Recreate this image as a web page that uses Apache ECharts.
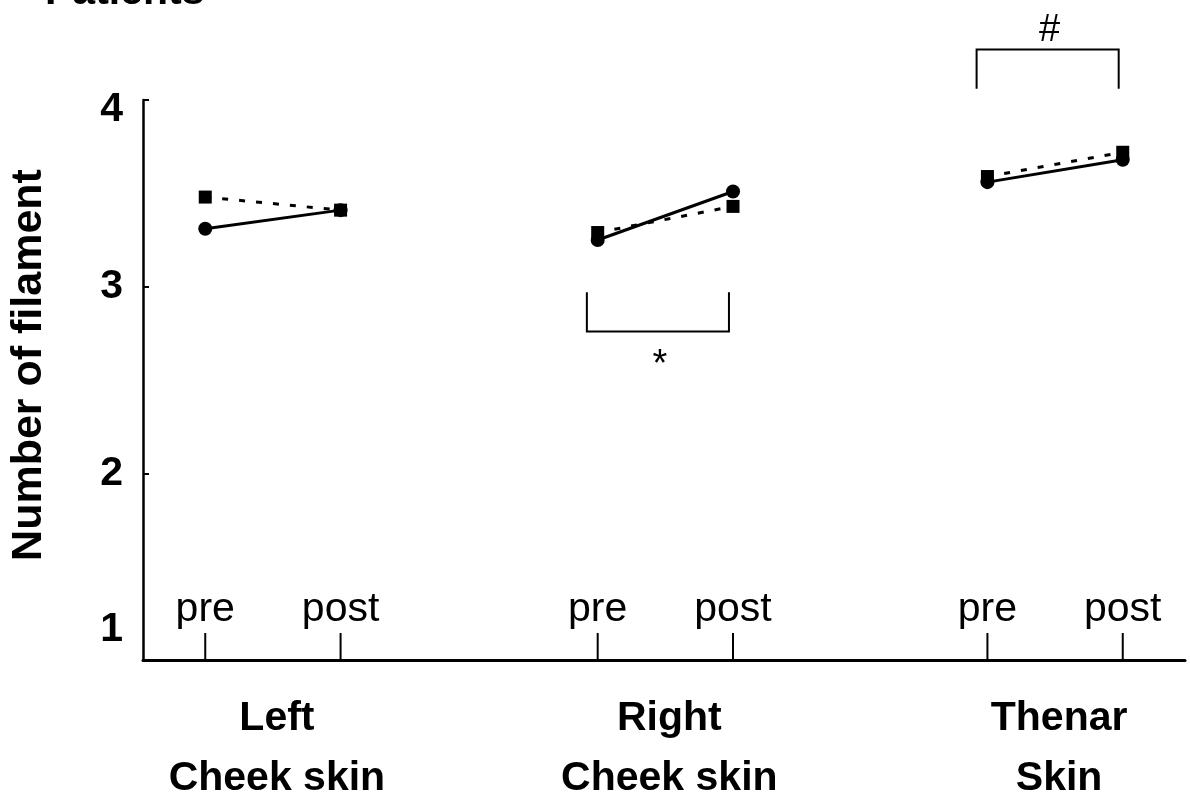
<!DOCTYPE html>
<html>
<head>
<meta charset="utf-8">
<script src="https://cdn.jsdelivr.net/npm/echarts@6/dist/echarts.min.js"></script>
<style>
  html, body { margin: 0; padding: 0; background: #fff; }
  #chart { width: 1190px; height: 797px; }
</style>
</head>
<body>
<div id="chart"></div>
<script>
// Measurement sites (two-line names), measurement phases and their x positions
const siteNames = [['Left', 'Cheek skin'], ['Right', 'Cheek skin'], ['Thenar', 'Skin']];
const phaseNames = ['pre', 'post'];
const siteStart = [1, 3.9, 6.78];   // x of the "pre" point of each site
const phaseStep = [0, 1];           // offset of pre / post within a site

// Mean filament number per site: [pre, post]
const solidCircle = [[3.31, 3.41], [3.25, 3.51], [3.56, 3.68]];
const dottedSquare = [[3.48, 3.41], [3.29, 3.43], [3.59, 3.72]];

// Y axis ticks
const yTicks = [1, 2, 3, 4];

// Significance brackets: site index, y of leg ends, y of bar, y of mark, mark
const sigSite = [1, 2];
const sigLegEnd = [2.97, 4.06];
const sigBar = [2.76, 4.27];
const sigMarkY = [2.58, 4.37];
const sigMark = ['*', '#'];

const FONT = "'Liberation Sans', Arial, Helvetica, sans-serif";

const chart = echarts.init(document.getElementById('chart'));

function xOf(site, phase) { return siteStart[site] + phaseStep[phase]; }

const series = [];

// Solid lines with circles
solidCircle.forEach((vals, s) => {
  series.push({
    type: 'line',
    data: vals.map((v, p) => [xOf(s, p), v]),
    symbol: 'circle',
    symbolSize: 14,
    z: 3,
    lineStyle: { color: '#000', width: 3, type: 'solid' },
    itemStyle: { color: '#000' },
    silent: true
  });
});

// Dotted lines with squares
dottedSquare.forEach((vals, s) => {
  series.push({
    type: 'line',
    data: vals.map((v, p) => [xOf(s, p), v]),
    symbol: 'rect',
    symbolSize: 13,
    z: 4,
    lineStyle: { color: '#000', width: 3, type: [6, 11] },
    itemStyle: { color: '#000' },
    silent: true
  });
});

// Phase ticks and labels (pre / post) above the x axis
const phaseTicks = [];
siteStart.forEach((_, s) => phaseNames.forEach((name, p) => phaseTicks.push({ x: xOf(s, p), name })));
series.push({
  type: 'custom',
  clip: false,
  silent: true,
  z: 5,
  data: phaseTicks.map(t => [t.x, yTicks[0]]),
  renderItem: (params, api) => {
    const pt = api.coord([api.value(0), api.value(1)]);
    return {
      type: 'group',
      children: [
        { type: 'line', shape: { x1: pt[0], y1: pt[1], x2: pt[0], y2: pt[1] - 27 },
          style: { stroke: '#000', lineWidth: 2 } },
        { type: 'text', x: pt[0], y: pt[1] - 50,
          style: { text: phaseTicks[params.dataIndex].name, font: '41px ' + FONT,
                   fill: '#000', align: 'center', verticalAlign: 'middle' } }
      ]
    };
  }
});

// Site names below the x axis
series.push({
  type: 'custom',
  clip: false,
  silent: true,
  data: siteStart.map((x, s) => [(xOf(s, 0) + xOf(s, 1)) / 2, yTicks[0]]),
  renderItem: (params, api) => {
    const pt = api.coord([api.value(0), api.value(1)]);
    const lines = siteNames[params.dataIndex];
    return {
      type: 'group',
      children: lines.map((ln, i) => ({
        type: 'text', x: pt[0] + 4, y: pt[1] + 59 + i * 60,
        style: { text: ln, font: 'bold 41px ' + FONT, fill: '#000',
                 align: 'center', verticalAlign: 'middle' }
      }))
    };
  }
});

// Significance brackets
series.push({
  type: 'custom',
  clip: false,
  silent: true,
  data: sigSite.map((s, i) => [xOf(s, 0), xOf(s, 1), sigLegEnd[i], sigBar[i], sigMarkY[i]]),
  renderItem: (params, api) => {
    const a = api.coord([api.value(0) - 0.08, api.value(2)]);
    const b = api.coord([api.value(1) - 0.03, api.value(3)]);
    const m = api.coord([(api.value(0) + api.value(1)) / 2 - 0.04, api.value(4)]);
    return {
      type: 'group',
      children: [
        { type: 'polyline',
          shape: { points: [[a[0], a[1]], [a[0], b[1]], [b[0], b[1]], [b[0], a[1]]] },
          style: { stroke: '#000', lineWidth: 2, fill: null } },
        { type: 'text', x: m[0], y: m[1],
          style: { text: sigMark[params.dataIndex], font: '38px ' + FONT, fill: '#000',
                   align: 'center', verticalAlign: 'middle' } }
      ]
    };
  }
});

const option = {
  animation: false,
  backgroundColor: '#fff',
  grid: { left: 140, right: 5, top: 100, bottom: 137, containLabel: false },
  graphic: [{
    type: 'text', x: 45, y: -7,
    style: { text: 'Patients', font: 'bold 41px ' + FONT, fill: '#000', verticalAlign: 'middle' }
  }],
  xAxis: {
    type: 'value',
    min: 0.54,
    max: 8.24,
    axisLine: { onZero: false, lineStyle: { color: '#000', width: 3 } },
    axisTick: { show: false },
    axisLabel: { show: false },
    splitLine: { show: false }
  },
  yAxis: {
    type: 'value',
    min: yTicks[0],
    max: yTicks[yTicks.length - 1],
    interval: 1,
    name: 'Number of filament',
    nameLocation: 'middle',
    nameGap: 92,
    nameTextStyle: { fontFamily: FONT, fontWeight: 'bold', fontSize: 43, color: '#000', padding: [0, 0, 0, 30] },
    axisLine: { show: true, lineStyle: { color: '#000', width: 2.5 } },
    axisTick: { show: true, inside: true, length: 6, lineStyle: { color: '#000', width: 2 } },
    splitLine: { show: false },
    axisLabel: {
      margin: 20,
      formatter: v => v === yTicks[0] ? '{lo|' + v + '}' : v === yTicks[yTicks.length - 1] ? '{hi|' + v + '}' : '{n|' + v + '}',
      rich: {
        n: { fontFamily: FONT, fontWeight: 'bold', fontSize: 41, color: '#000' },
        lo: { fontFamily: FONT, fontWeight: 'bold', fontSize: 41, color: '#000', padding: [0, 0, 60, 0] },
        hi: { fontFamily: FONT, fontWeight: 'bold', fontSize: 41, color: '#000', padding: [20, 0, 0, 0] }
      }
    }
  },
  series
};

chart.setOption(option);
</script>
</body>
</html>
